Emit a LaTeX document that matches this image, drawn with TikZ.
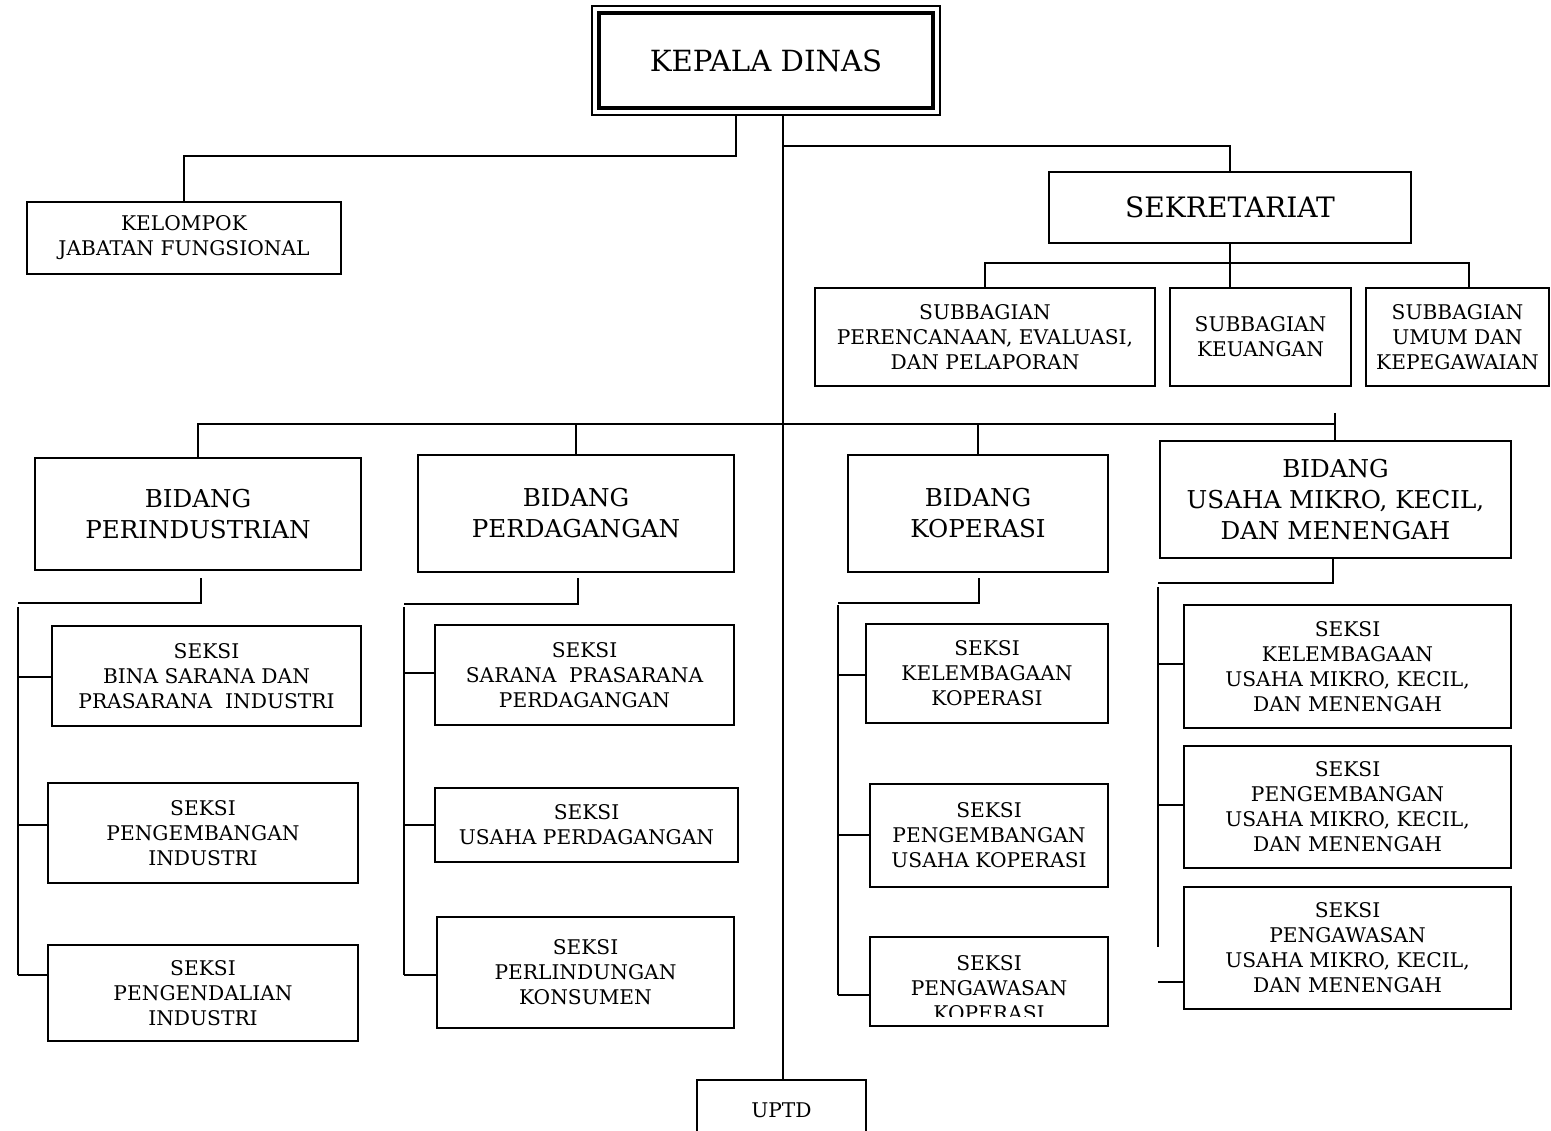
\documentclass[tikz,border=0pt]{standalone}
\usepackage{fontspec}
\setmainfont{DejaVu Serif}
\tikzset{
  unit/.style={draw, line width=1pt, inner sep=0pt, align=center,
    font=\fontsize{11.5}{14.2}\selectfont},
  bidang/.style={unit, font=\fontsize{14}{17.6}\selectfont},
  head/.style={unit, font=\fontsize{16}{19}\selectfont},
  txt/.style={inner sep=0pt, align=center, font=\fontsize{11.5}{14.2}\selectfont},
  sz/.style 2 args={minimum width=#1*0.02cm, minimum height=#2*0.02cm}
}
\begin{document}
\begin{tikzpicture}[x=0.02cm, y=-0.02cm]
      \useasboundingbox (0,0) rectangle (1551,1131);
      % pimpinan dan sekretariat
      \node[unit, line width=0.6pt, sz={348}{109}] (kdo) at (766,60.5) {};
      \node[head, line width=2.8pt, sz={334}{95}, font=\fontsize{16.6}{19}\selectfont] (kd) at (766,60.5) {KEPALA DINAS};
      \node[unit, sz={314}{72}] (klp) at (184,238) {KELOMPOK\\JABATAN FUNGSIONAL};
      \node[head, sz={362}{71}] (sek) at (1230,207.5) {SEKRETARIAT};
      \node[unit, sz={340}{98}] (sb1) at (985,337) {SUBBAGIAN\\PERENCANAAN, EVALUASI,\\DAN PELAPORAN};
      \node[unit, sz={181}{98}] (sb2) at (1260.5,337) {SUBBAGIAN\\KEUANGAN};
      \node[unit, sz={183}{98}] (sb3) at (1457.5,337) {SUBBAGIAN\\UMUM DAN\\KEPEGAWAIAN};
      % bidang
      \node[bidang, sz={326}{112}] (bp) at (198,514) {BIDANG\\PERINDUSTRIAN};
      \node[bidang, sz={316}{117}] (bpd) at (576,513.5) {BIDANG\\PERDAGANGAN};
      \node[bidang, sz={260}{117}] (bk) at (978,513.5) {BIDANG\\KOPERASI};
      \node[bidang, sz={351}{117}] (bu) at (1335.5,499.5) {BIDANG\\USAHA MIKRO, KECIL,\\DAN MENENGAH};
      % seksi
      \node[unit, sz={309}{100}] (si1) at (206.5,676) {SEKSI\\BINA SARANA DAN\\PRASARANA~~INDUSTRI};
      \node[unit, sz={310}{100}] (si2) at (203,833) {SEKSI\\PENGEMBANGAN\\INDUSTRI};
      \node[unit, sz={310}{96}] (si3) at (203,993) {SEKSI\\PENGENDALIAN\\INDUSTRI};
      \node[unit, sz={299}{100}] (sd1) at (584.5,675) {SEKSI\\SARANA~~PRASARANA\\PERDAGANGAN};
      \node[unit, sz={303}{74}] (sd2) at (586.5,825) {SEKSI\\USAHA PERDAGANGAN};
      \node[unit, sz={297}{111}] (sd3) at (585.5,972.5) {SEKSI\\PERLINDUNGAN\\KONSUMEN};
      \node[unit, sz={242}{99}] (sk1) at (987,673.5) {SEKSI\\KELEMBAGAAN\\KOPERASI};
      \node[unit, sz={238}{103}] (sk2) at (989,835.5) {SEKSI\\PENGEMBANGAN\\USAHA KOPERASI};
      \node[unit, sz={238}{89}] (sk3) at (989,981.5) {};
      \begin{scope}
        \clip (870,937) rectangle (1108,1016);
        \node[txt] (sk3t) at (989,988) {SEKSI\\PENGAWASAN\\KOPERASI};
      \end{scope}
      \node[unit, sz={327}{123}] (su1) at (1347.5,666.5) {SEKSI\\KELEMBAGAAN\\USAHA MIKRO, KECIL,\\DAN MENENGAH};
      \node[unit, sz={327}{122}] (su2) at (1347.5,807) {SEKSI\\PENGEMBANGAN\\USAHA MIKRO, KECIL,\\DAN MENENGAH};
      \node[unit, sz={327}{122}] (su3) at (1347.5,948) {SEKSI\\PENGAWASAN\\USAHA MIKRO, KECIL,\\DAN MENENGAH};
      \node[unit, sz={169}{60}] (uptd) at (781.5,1110) {UPTD};
      % garis
      \begin{scope}[line width=1pt]
        \coordinate (kj) at (736,156);
        \coordinate (tr) at (783,146);
        \draw (kj |- kdo.south) -- (kj) -| (klp.north);
        \draw (tr |- kdo.south) -- (tr |- uptd.north);
        \draw (tr) -| (sek.north);
        \coordinate (sj) at (1469,263);
        \draw (sek.south) -- (sek.south |- sb2.north);
        \draw (sb1.north) |- (sj) -- (sj |- sb3.north);
        \coordinate (bj) at (1335,424);
        \coordinate (bt) at (1335,413);
        \draw (bp.north) |- (bj);
        \draw (bpd.north) -- (bpd.north |- bj);
        \draw (bk.north) -- (bk.north |- bj);
        \draw (bt) -- (bt |- bu.north);
        % perindustrian
        \coordinate (pa) at (201,578);
        \coordinate (pb) at (18,603);
        \coordinate (pc) at (18,607);
        \coordinate (pt1) at (18,677);
        \coordinate (pt2) at (18,825);
        \coordinate (pt3) at (18,975);
        \draw (pa) |- (pb);
        \draw (pc) -- (pt3);
        \draw (pt1) -- (pt1 -| si1.west);
        \draw (pt2) -- (pt2 -| si2.west);
        \draw (pt3) -- (pt3 -| si3.west);
        % perdagangan
        \coordinate (da) at (578,578);
        \coordinate (db) at (404,604);
        \coordinate (dc) at (404,607);
        \coordinate (dt1) at (404,673);
        \coordinate (dt2) at (404,825);
        \coordinate (dt3) at (404,975);
        \draw (da) |- (db);
        \draw (dc) -- (dt3);
        \draw (dt1) -- (dt1 -| sd1.west);
        \draw (dt2) -- (dt2 -| sd2.west);
        \draw (dt3) -- (dt3 -| sd3.west);
        % koperasi
        \coordinate (ka) at (979,578);
        \coordinate (kb) at (838,603);
        \coordinate (kc) at (838,605);
        \coordinate (kt1) at (838,675);
        \coordinate (kt2) at (838,835);
        \coordinate (kt3) at (838,995);
        \draw (ka) |- (kb);
        \draw (kc) -- (kt3);
        \draw (kt1) -- (kt1 -| sk1.west);
        \draw (kt2) -- (kt2 -| sk2.west);
        \draw (kt3) -- (kt3 -| sk3.west);
        % umkm
        \coordinate (ua) at (1333,558);
        \coordinate (ub) at (1158,583);
        \coordinate (uc) at (1158,587);
        \coordinate (ue) at (1158,947);
        \coordinate (ut1) at (1158,664);
        \coordinate (ut2) at (1158,805);
        \coordinate (ut3) at (1158,982);
        \draw (ua) |- (ub);
        \draw (uc) -- (ue);
        \draw (ut1) -- (ut1 -| su1.west);
        \draw (ut2) -- (ut2 -| su2.west);
        \draw (ut3) -- (ut3 -| su3.west);
      \end{scope}
    \end{tikzpicture}
\end{document}
